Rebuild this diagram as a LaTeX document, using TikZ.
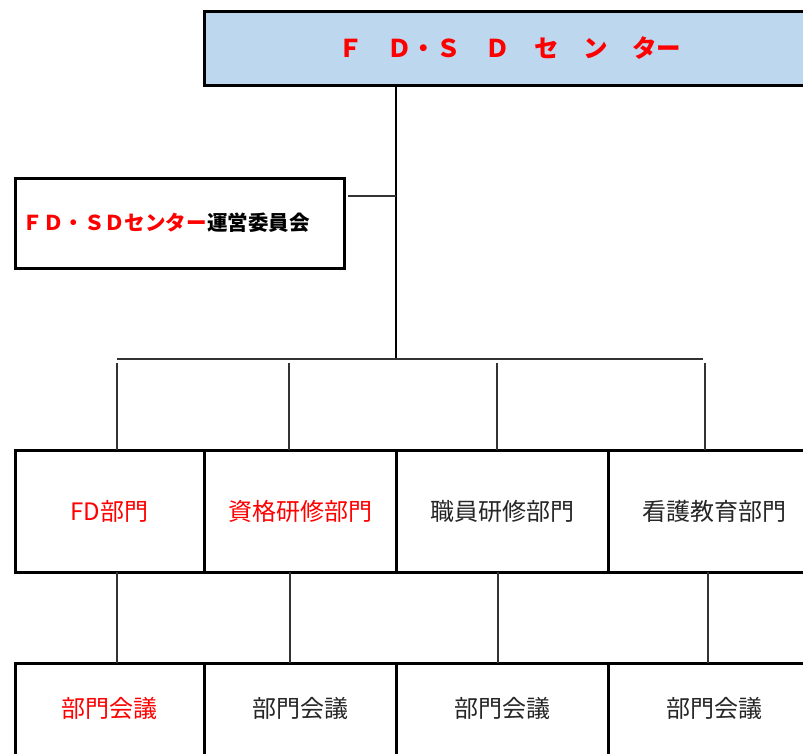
\documentclass[tikz,border=0pt]{standalone}
\usepackage{fontspec}
\setmainfont{Noto Sans CJK JP}
\usepackage{tikz}
\usetikzlibrary{positioning}

\definecolor{fdblue}{HTML}{BDD7EE}
\definecolor{fdred}{HTML}{FF0000}

\begin{document}
\begin{tikzpicture}[
    x=1pt, y=-1pt,
    unit/.style={draw, line width=3pt, inner sep=0pt, outer sep=0pt},
    dept/.style={unit, minimum height=122pt, font=\fontsize{24}{28}\selectfont, text=black!85},
    meet/.style={unit, minimum height=100pt, text height=21pt, text depth=13pt,
        font=\fontsize{24}{28}\selectfont, text=black!85},
    trunk/.style={line width=2.5pt},
    link/.style={line width=1.1pt, black!80}
]
\clip (0,0) rectangle (803,753);
\node [unit, fill=fdblue, minimum width=611pt, minimum height=74pt, text=fdred,
    font=\bfseries\fontsize{24.5}{28}\selectfont] (center) at (509.5,48) {Ｆ　Ｄ・Ｓ　Ｄ　セ　ン　ター};
\node [unit, minimum width=329pt, minimum height=90pt, text width=310pt, inner xsep=9.5pt,
    align=left, font=\bfseries\fontsize{20.5}{24}\selectfont] (board) at (179.5,223)
    {\hspace*{-2pt}\textcolor{fdred}{ＦＤ・ＳＤセンター}運営委員会};

% departments
\node [dept, minimum width=189pt, text=fdred] (d1) at (109.5,511) {FD部門};
\node [dept, minimum width=192pt, text=fdred, right=0pt of d1] (d2) {資格研修部門};
\node [dept, minimum width=212pt, right=0pt of d2] (d3) {職員研修部門};
\node [dept, minimum width=212pt, right=0pt of d3] (d4) {看護教育部門};

% meetings
\node [meet, minimum width=189pt, text=fdred, below=91pt of d1] (m1) {部門会議};
\node [meet, minimum width=192pt, right=0pt of m1] (m2) {部門会議};
\node [meet, minimum width=212pt, right=0pt of m2] (m3) {部門会議};
\node [meet, minimum width=212pt, right=0pt of m3] (m4) {部門会議};

\coordinate (hub) at (396,359);
\coordinate (join) at (396,196);
\coordinate (busl) at (117,359);
\coordinate (busr) at (703,359);

\draw[trunk] (center.south -| hub) -- (hub);
\draw[link] ([xshift=4pt]board.east |- join) -- (join);
\draw[link] (busl) -- (busr);
\foreach \x/\d in {117/d1, 289/d2, 497/d3, 705/d4}
    \draw[link] (\x,363) -- (\x,0 |- \d.north);
\foreach \x/\d/\m in {117/d1/m1, 290/d2/m2, 498/d3/m3, 708/d4/m4}
    \draw[link] (\x,0 |- \d.south) -- (\x,0 |- \m.north);
\end{tikzpicture}
\end{document}
